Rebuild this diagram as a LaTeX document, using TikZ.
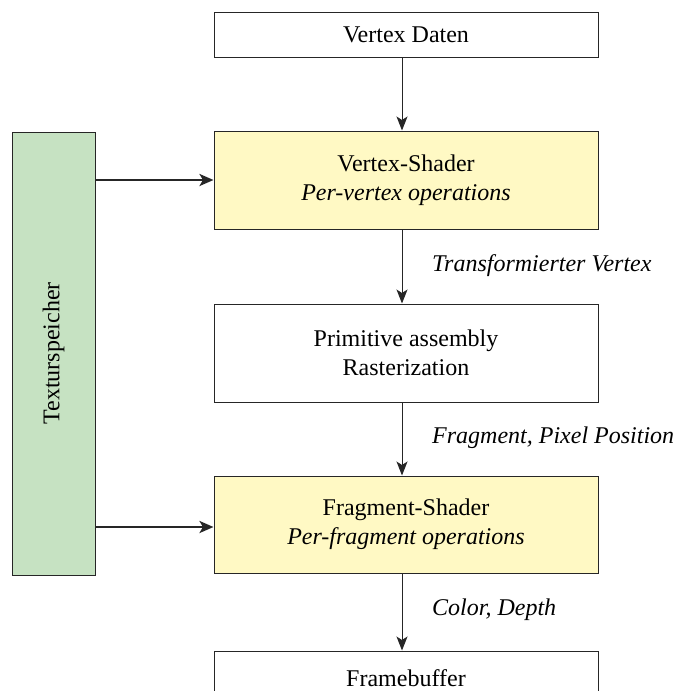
\documentclass[tikz,border=0pt]{standalone}
\usepackage{fontspec}
\setmainfont{Liberation Serif}
\usetikzlibrary{arrows.meta}
\definecolor{shaderfill}{HTML}{FFF9C4}
\definecolor{texfill}{HTML}{C6E2C2}
\definecolor{edge}{HTML}{262626}
\tikzset{
  stage/.style={draw=edge, line width=1pt, minimum width=384pt, inner sep=0pt,
    align=center, font=\fontsize{24}{29}\selectfont},
  shader/.style={stage, fill=shaderfill},
  flow/.style={draw=edge, line width=1pt, -{Stealth[length=14pt,width=11pt,inset=3.5pt]}},
  feed/.style={draw=edge, line width=2.7pt, -{Stealth[length=14pt,width=12pt,inset=3.5pt]}},
  tag/.style={anchor=west, inner sep=0pt, font=\fontsize{24}{29}\selectfont\itshape}
}
\begin{document}
\begin{tikzpicture}[x=1pt, y=-1pt]
\useasboundingbox (0,0) rectangle (676,691);
\clip (0,0) rectangle (676,691);

% pipeline stages
\node[stage, minimum height=45pt] (vd) at (406,34.5) {Vertex Daten};
\node[shader, minimum height=98pt] (vs) at (406,180) {Vertex-Shader\\\textit{Per-vertex operations}};
\node[stage, minimum height=98pt] (pa) at (406,353) {Primitive assembly\\Rasterization};
\node[shader, minimum height=97pt] (fs) at (406,524.5) {Fragment-Shader\\\textit{Per-fragment operations}};
\node[stage, minimum height=54pt] (fb) at (406,678) {Framebuffer};

% texture memory
\node[draw=edge, line width=1pt, fill=texfill, minimum width=83pt, minimum height=443pt,
  inner sep=0pt] (tx) at (53.5,353.5) {};
\node[rotate=90, font=\fontsize{24}{29}\selectfont] (txl) at (tx.center) {Texturspeicher};

% data flow between stages
\draw[flow] (vd.south -| 402,0) -- (vs.north -| 402,0);
\draw[flow] (vs.south -| 402,0) -- (pa.north -| 402,0);
\draw[flow] (pa.south -| 402,0) -- (fs.north -| 402,0);
\draw[flow] (fs.south -| 402,0) -- (fb.north -| 402,0);

% texture lookups
\draw[feed] (tx.east |- 0,180) -- (vs.west |- 0,180);
\draw[feed] (tx.east |- 0,527) -- (fs.west |- 0,527);

% edge labels
\node[tag] (l1) at (432,266) {Transformierter Vertex};
\node[tag] (l2) at (432,438) {Fragment, Pixel Position};
\node[tag] (l3) at (432,610) {Color, Depth};
\end{tikzpicture}
\end{document}
